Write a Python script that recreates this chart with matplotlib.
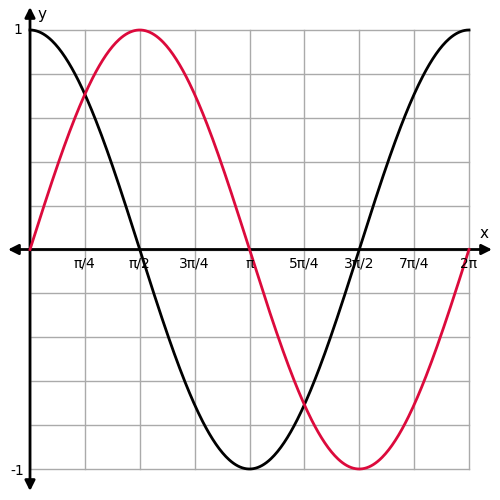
import numpy as np
import matplotlib
matplotlib.use("Agg")
import matplotlib.pyplot as plt

# Data
x_ticks = [k * np.pi / 4 for k in range(1, 9)]
x_tick_labels = ["π/4", "π/2", "3π/4", "π", "5π/4", "3π/2", "7π/4", "2π"]
y_ticks = [1, -1]
y_tick_labels = ["1", "-1"]
x_vals = np.linspace(0, 2 * np.pi, 400)
sin_vals = np.sin(x_vals)
cos_vals = np.cos(x_vals)

fig = plt.figure(figsize=(5, 5), dpi=100)
ax = fig.add_axes([0, 0, 1, 1])
ax.set_axis_off()

sx = 2 * np.pi / 439
x0 = -30 * sx
x1 = 2 * np.pi + 31 * sx
sy = 2 / 439
y1 = 1 + 30 * sy
y0 = -1 - 31 * sy
ax.set_xlim(x0, x1)
ax.set_ylim(y0, y1)

grid_c = "#aaaaaa"
for k in range(0, 9):
    ax.plot([k * np.pi / 4] * 2, [-1, 1], color=grid_c, lw=1, zorder=1)
for j in range(0, 11):
    y = -1 + 0.2 * j
    ax.plot([0, 2 * np.pi], [y, y], color=grid_c, lw=1, zorder=1)

# axes with arrows
ax.annotate("", xy=(x0 + 8 * sx, 0), xytext=(x1 - 8 * sx, 0),
            arrowprops=dict(arrowstyle="<|-|>,head_length=0.6,head_width=0.3",
                            color="black", lw=2, shrinkA=0, shrinkB=0), zorder=3)
ax.annotate("", xy=(0, y1 - 7 * sy), xytext=(0, y0 + 9 * sy),
            arrowprops=dict(arrowstyle="<|-|>,head_length=0.6,head_width=0.3",
                            color="black", lw=2, shrinkA=0, shrinkB=0), zorder=3)

ax.plot(x_vals, cos_vals, color="black", lw=2, zorder=4)
ax.plot(x_vals, sin_vals, color="#dc0a3c", lw=2, zorder=5)

fs = 10
for xt, lab in zip(x_ticks, x_tick_labels):
    ax.text(xt, -14 * sy, lab, ha="center", va="center", fontsize=fs, zorder=6)
ax.text(-12 * sx, 1, "1", ha="center", va="center", fontsize=fs)
ax.text(-13 * sx, -1 - 2 * sy, "-1", ha="center", va="center", fontsize=fs)
ax.text(12 * sx, y1 - 15 * sy, "y", ha="center", va="center", fontsize=11)
ax.text(2 * np.pi + 15 * sx, 16 * sy, "x", ha="center", va="center", fontsize=11)

fig.savefig("out.png", dpi=100)
